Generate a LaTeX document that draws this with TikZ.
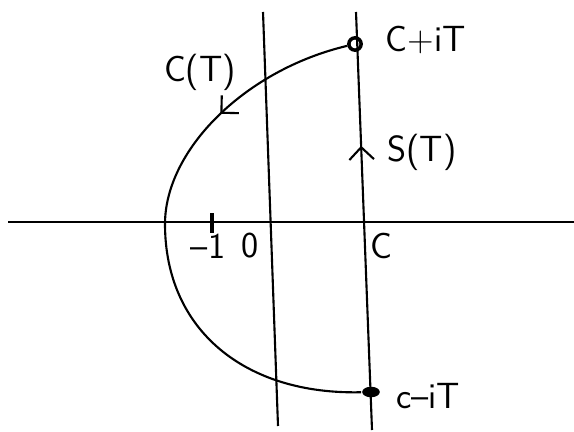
\documentclass[tikz,border=0pt]{standalone}
\usetikzlibrary{arrows.meta, decorations.markings}
\tikzstyle{lbl}=[inner sep=0pt, font=\sffamily\huge]
\tikzstyle{ring}=[circle, draw, line width=2pt, inner sep=0pt, minimum size=7pt]
\tikzstyle{dot}=[ellipse, fill, inner sep=0pt, minimum width=10pt, minimum height=6pt]
\tikzstyle{midarrow}=[postaction={decorate}, decoration={markings, mark=at position #1 with {\arrow{Straight Barb[length=7pt, width=14pt]}}}]
\usetikzlibrary{shapes.geometric}

\begin{document}
\begin{tikzpicture}[x=0.02cm, y=-0.02cm, line width=1.2pt]
    \useasboundingbox (0,0) rectangle (574,432);
    \coordinate (xl) at (8,222);
    \coordinate (xr) at (574,222);
    \coordinate (at) at (263,12);
    \coordinate (ab) at (278,426);
    \coordinate (bt) at (356,12);
    \coordinate (bb) at (372,430);
    \coordinate (m) at (165,224);
    \coordinate (t0) at (212,213);
    \coordinate (t1) at (212,233);
    \node[ring] (ct) at (355,44) {};
    \node[dot] (cb) at (371,392) {};
    \draw (xl) -- (xr);
    \draw (ab) -- (at);
    \draw[midarrow=0.68] (bb) -- (bt);
    \draw[line width=2.2pt] (t0) -- (t1);
    \draw[midarrow=0.535] (ct) .. controls (245,70) and (165,150) .. (m);
    \draw (m) .. controls (165,330) and (245,395) .. (cb);
    \node[lbl] (lct) at (426,40) {C+iT};
    \node[lbl] (lcb) at (428,396) {c--iT};
    \node[lbl] (lc) at (200,72) {C(T)};
    \node[lbl] (ls) at (422,152) {S(T)};
    \node[lbl] (lm) at (208,246) {--1};
    \node[lbl] (lz) at (250,246) {0};
    \node[lbl] (lx) at (381,246) {C};
\end{tikzpicture}
\end{document}
